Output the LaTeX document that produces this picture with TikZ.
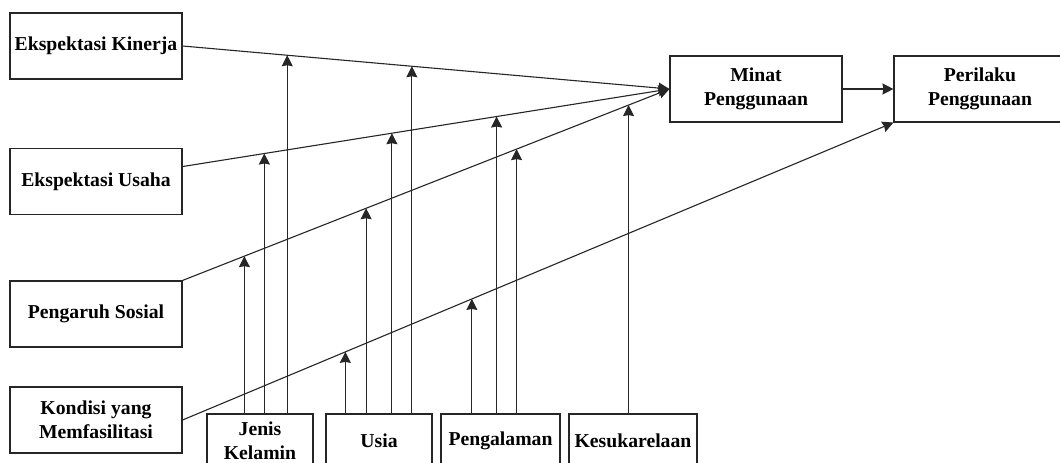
\documentclass[tikz,border=0pt]{standalone}
\usepackage{fontspec}
\setmainfont{Liberation Serif}
\usetikzlibrary{calc,arrows.meta}
\begin{document}
\begin{tikzpicture}[x=1pt,y=-1pt,
  box/.style={draw=black!85, line width=1.1pt, inner sep=0pt, align=center,
    font=\fontsize{19.7}{24}\selectfont\bfseries},
  big/.style={box, minimum width=172pt, minimum height=66pt},
  mod/.style={box, minimum height=54pt},
  con/.style={draw=black!85, line width=1.1pt},
  arr/.style={con, -{Stealth[length=11pt,width=11pt,inset=1pt]}}]
\useasboundingbox (0,0) rectangle (1060,463);
\clip (0,0) rectangle (1060,463);
\fill[white] (0,0) rectangle (1060,463);
% main constructs
\node[big] (ek) at (96,46) {Ekspektasi Kinerja};
\node[big] (eu) at (96,181.5) {Ekspektasi Usaha};
\node[big] (ps) at (96,314) {Pengaruh Sosial};
\node[big] (km) at (96,420) {Kondisi yang\\Memfasilitasi};
\node[big] (minat) at (756,89) {Minat\\Penggunaan};
\node[big] (pr) at (980,89) {Perilaku\\Penggunaan};
% moderators
\node[mod, minimum width=106pt] (jk) at (260,441) {Jenis\\Kelamin};
\node[mod, minimum width=106pt] (us) at (379,441) {Usia};
\node[mod, minimum width=119pt] (pg) at (500.5,441) {Pengalaman};
\node[mod, minimum width=128pt] (ks) at (633,441) {Kesukarelaan};
% main paths
\coordinate (eus) at ($(eu.north east)!0.277!(eu.south east)$);
\draw[arr] (ek.east) -- (minat.west);
\draw[arr] (eus) -- (minat.west);
\draw[arr] (ps.north east) -- (minat.west);
\draw[arr] (km.east) -- (pr.south west);
\draw[arr] (minat.east) -- (pr.west);
% moderating points
\coordinate (a1) at ($(ek.east)!0.215!(minat.west)$);
\coordinate (a2) at ($(ek.east)!0.471!(minat.west)$);
\coordinate (b1) at ($(eus)!0.168!(minat.west)$);
\coordinate (b2) at ($(eus)!0.430!(minat.west)$);
\coordinate (b3) at ($(eus)!0.645!(minat.west)$);
\coordinate (c1) at ($(ps.north east)!0.127!(minat.west)$);
\coordinate (c2) at ($(ps.north east)!0.377!(minat.west)$);
\coordinate (c3) at ($(ps.north east)!0.686!(minat.west)$);
\coordinate (c4) at ($(ps.north east)!0.916!(minat.west)$);
\coordinate (d1) at ($(km.east)!0.229!(pr.south west)$);
\coordinate (d2) at ($(km.east)!0.407!(pr.south west)$);
% moderator arrows
\draw[arr] (jk.north -| c1) -- (c1);
\draw[arr] (jk.north -| b1) -- (b1);
\draw[arr] (jk.north -| a1) -- (a1);
\draw[arr] (us.north -| d1) -- (d1);
\draw[arr] (us.north -| c2) -- (c2);
\draw[arr] (us.north -| b2) -- (b2);
\draw[arr] (us.north -| a2) -- (a2);
\draw[arr] (pg.north -| d2) -- (d2);
\draw[arr] (pg.north -| b3) -- (b3);
\draw[arr] (pg.north -| c3) -- (c3);
\draw[arr] (ks.north -| c4) -- (c4);
\end{tikzpicture}
\end{document}
